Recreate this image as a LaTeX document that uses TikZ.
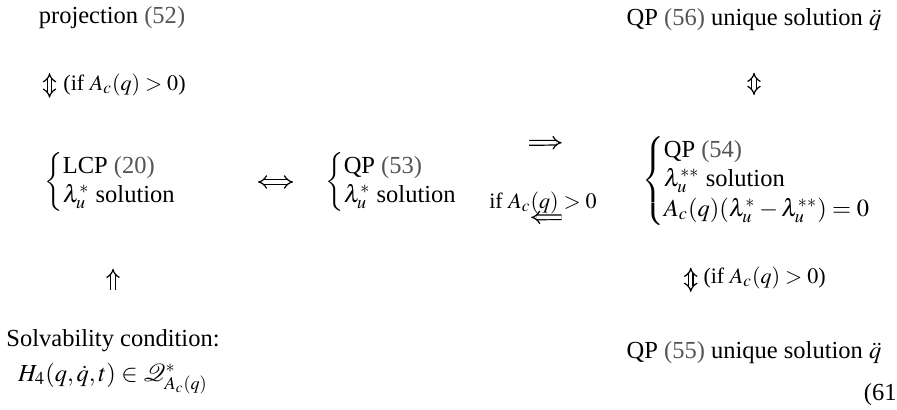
\documentclass[tikz,border=0pt]{standalone}
\usepackage{amsmath}
\usepackage{mathptmx}
\usepackage[no-math]{fontspec}
\setmainfont{Liberation Serif}
\usepackage{xcolor}
\definecolor{refgray}{RGB}{85,85,85}
\newcommand{\eqr}[1]{\textcolor{refgray}{(#1)}}
\usepackage{tikz}
\usetikzlibrary{arrows.meta}

\tikzset{
  lbl/.style={inner sep=0pt, font=\normalsize},
  cond/.style={inner sep=0pt, font=\fontsize{9}{11}\selectfont},
  dbl/.style={double, double distance=1.4pt, line width=0.5pt},
}

\begin{document}
\begin{tikzpicture}[x=0.408pt, y=-0.408pt]
\useasboundingbox (0,0) rectangle (897,409);

% top row
\node[lbl] (proj) at (112,18) {projection \eqr{52}};
\node[lbl] (qp56) at (754,20) {QP \eqr{56} unique solution $\ddot q$};

% middle row
\node[lbl] (lcp) at (111,182) {$\left\{\begin{array}{@{}l@{}}\text{LCP \eqr{20}}\\ \lambda_u^*\text{ solution}\end{array}\right.$};
\node[lbl] (qp53) at (392,182) {$\left\{\begin{array}{@{}l@{}}\text{QP \eqr{53}}\\ \lambda_u^*\text{ solution}\end{array}\right.$};
\node[lbl] (qp54) at (757,181) {$\left\{\begin{array}{@{}l@{}}\text{QP \eqr{54}}\\ \lambda_u^{**}\text{ solution}\\ A_c(q)(\lambda_u^*-\lambda_u^{**})=0\end{array}\right.$};

% bottom row
\node[lbl, align=center] (solv) at (113,362) {Solvability condition:\\[2pt] $H_4(q,\dot q,t)\in\mathcal{Q}^*_{A_c(q)}$};
\node[lbl] (qp55) at (754,353) {QP \eqr{55} unique solution $\ddot q$};
\node[lbl, anchor=east] (eqno) at (897,395) {(61};

% conditions
\node[cond, anchor=west] (c1) at (63,85) {(if $A_c(q)>0$)};
\node[cond] (c3) at (543,203) {if $A_c(q)>0$};
\node[cond, anchor=west] (c4) at (703,278) {(if $A_c(q)>0$)};

% implications
\draw[dbl, Implies-Implies, shorten <=17.8pt, shorten >=22.2pt] ([xshift=-5.5pt]c1.west |- proj.south) -- ([xshift=-5.5pt]c1.west |- lcp.north);
\draw[dbl, Implies-Implies, shorten <=16.8pt, shorten >=16.9pt] (qp56.south) -- (qp56.south |- qp54.north);
\draw[dbl, Implies-Implies, shorten <=32.6pt, shorten >=13pt] (lcp.east) -- (qp53.west |- lcp.east);
\draw[dbl, -Implies, shorten <=28.6pt, shorten >=32.6pt] ([yshift=15.8pt]qp53.east) -- ([yshift=15.8pt]qp54.west);
\draw[dbl, -Implies, shorten <=32.6pt, shorten >=29.4pt] ([yshift=-14.6pt]qp54.west) -- ([yshift=-14.6pt]qp53.east);
\draw[dbl, -Implies, shorten <=16pt, shorten >=23.2pt] (solv.north) -- (solv.north |- lcp.south);
\draw[dbl, Implies-Implies, shorten <=17.2pt, shorten >=20.2pt] ([xshift=-5pt]c4.west |- qp54.south) -- ([xshift=-5pt]c4.west |- qp55.north);

\end{tikzpicture}
\end{document}
